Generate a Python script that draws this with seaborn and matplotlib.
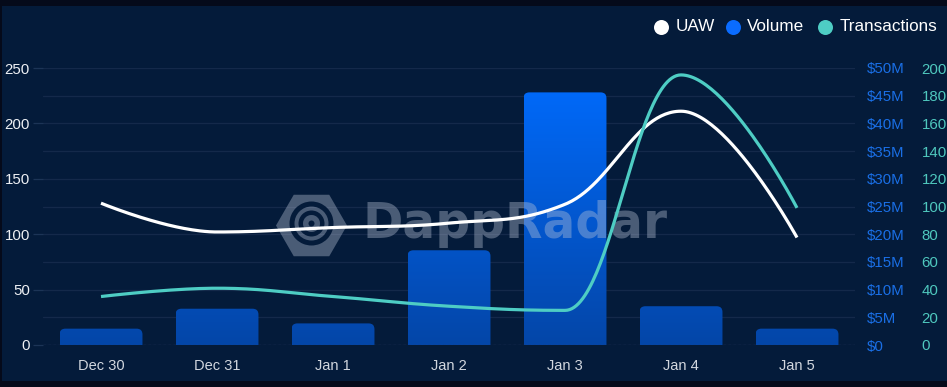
import numpy as np
import pandas as pd
import matplotlib
matplotlib.use("Agg")
import matplotlib.pyplot as plt
import seaborn as sns
from matplotlib.patches import FancyBboxPatch, Rectangle, RegularPolygon, Circle, Wedge
from matplotlib.colors import LinearSegmentedColormap
from matplotlib.lines import Line2D
from matplotlib.transforms import IdentityTransform
from matplotlib.ticker import FuncFormatter

# ---------------- data ----------------
dates = ["Dec 30", "Dec 31", "Jan 1", "Jan 2", "Jan 3", "Jan 4", "Jan 5"]
uaw = [128, 102, 106, 110, 127, 211, 97]
volume_musd = [2.95, 6.55, 3.9, 17.1, 45.6, 7.0, 2.95]
transactions = [35, 41, 35, 28, 25, 195, 99]

uaw_ticks = [0, 50, 100, 150, 200, 250]
vol_ticks = list(range(0, 55, 5))
tx_ticks = list(range(0, 220, 20))

BG = "#041b3a"
BORDER = "#050a1a"
GRID = "#14294a"
WHITE = "#ffffff"
TEAL = "#4ecdc4"
BLUE = "#0a6cff"

sns.set_theme(style="dark")
plt.rcParams["font.family"] = ["Liberation Sans", "DejaVu Sans"]

W, H = 947, 387
fig = plt.figure(figsize=(W / 100, H / 100), dpi=100)
fig.patch.set_facecolor(BORDER)
fig.add_artist(Rectangle((2 / W, 6 / H), 945 / W, 375 / H, transform=fig.transFigure,
                         facecolor=BG, edgecolor="none", zorder=-10))

rect = [43 / W, 42 / H, 812 / W, 277 / H]
ax2 = fig.add_axes(rect)          # volume bars (bottom)
ax = ax2.twinx()                  # UAW
ax3 = ax2.twinx()                 # transactions

df = pd.DataFrame({"date": dates, "volume": volume_musd})
sns.barplot(data=df, x="date", y="volume", ax=ax2, width=0.715, color=BLUE,
            order=dates, errorbar=None)

ax2.set_facecolor(BG)
ax2.set_xlim(-0.5, 6.5)
ax2.set_ylim(0, 50)
ax.set_ylim(0, 250)
ax3.set_ylim(0, 200)

# gradient rounded bars
cmap = LinearSegmentedColormap.from_list("g", ["#0446a8", "#006cff"])
rx = 0.05
ry = 1.05
for p in list(ax2.patches):
    x0, w, h = p.get_x(), p.get_width(), p.get_height()
    p.set_visible(False)
    box = FancyBboxPatch((x0, -ry), w, h + ry,
                         boxstyle=f"round,pad=0,rounding_size={rx}",
                         mutation_aspect=ry / rx,
                         facecolor="none", edgecolor="none")
    ax2.add_patch(box)
    vals = np.linspace(0, h, 200)[:, None] / 50.0
    im = ax2.imshow(vals, extent=(x0, x0 + w, 0, h), origin="lower", aspect="auto",
                    cmap=cmap, vmin=0, vmax=1, interpolation="bilinear", zorder=2)
    im.set_clip_path(box)
ax2.set_xlim(-0.5, 6.5)
ax2.set_ylim(0, 50)

# grid lines (every 5M == every 25 UAW)
for v in vol_ticks:
    ax2.axhline(v, color=GRID, lw=0.9, zorder=0.5)
ax2.axhline(0, color="#2c4264", lw=0.9, ls=(0, (2, 2)), zorder=3)
ax2.grid(False)
ax.grid(False)
ax3.grid(False)


def hc_spline(ys, n=60):
    xs = list(range(len(ys)))
    sm, den = 1.5, 2.5
    lc = [None] * len(ys)
    rc = [None] * len(ys)
    for i in range(1, len(ys) - 1):
        px, py = xs[i], ys[i]
        lx, ly = xs[i - 1], ys[i - 1]
        nx, ny = xs[i + 1], ys[i + 1]
        lcx = (sm * px + lx) / den
        lcy = (sm * py + ly) / den
        rcx = (sm * px + nx) / den
        rcy = (sm * py + ny) / den
        corr = (rcy - lcy) * (rcx - px) / (rcx - lcx) + py - rcy
        lcy += corr
        rcy += corr
        if lcy > ly and lcy > py:
            lcy = max(ly, py); rcy = 2 * py - lcy
        elif lcy < ly and lcy < py:
            lcy = min(ly, py); rcy = 2 * py - lcy
        if rcy > ny and rcy > py:
            rcy = max(ny, py); lcy = 2 * py - rcy
        elif rcy < ny and rcy < py:
            rcy = min(ny, py); lcy = 2 * py - rcy
        lc[i] = (lcx, lcy)
        rc[i] = (rcx, rcy)
    outx, outy = [], []
    t = np.linspace(0, 1, n)
    for i in range(1, len(ys)):
        p0 = np.array([xs[i - 1], ys[i - 1]], float)
        p3 = np.array([xs[i], ys[i]], float)
        p1 = np.array(rc[i - 1]) if rc[i - 1] is not None else p0
        p2 = np.array(lc[i]) if lc[i] is not None else p3
        b = ((1 - t) ** 3)[:, None] * p0 + (3 * (1 - t) ** 2 * t)[:, None] * p1 + \
            (3 * (1 - t) * t ** 2)[:, None] * p2 + (t ** 3)[:, None] * p3
        outx.extend(b[:, 0]); outy.extend(b[:, 1])
    return np.array(outx), np.array(outy)


ux, uy = hc_spline(uaw)
tx, ty = hc_spline(transactions)
ax.plot(ux, uy, color=WHITE, lw=2.3, solid_capstyle="butt", clip_on=False)
ax3.plot(tx, ty, color=TEAL, lw=2.3, solid_capstyle="butt", clip_on=False)

# axes styling
for a in (ax, ax2, ax3):
    for s in a.spines.values():
        s.set_visible(False)
ax.patch.set_visible(False)
ax3.patch.set_visible(False)

ax.yaxis.tick_left()
ax.set_yticks(uaw_ticks)
ax.tick_params(axis="y", left=True, right=False, labelleft=True, labelright=False,
               length=7.2, width=0.9, color="#1c3456", pad=2.2, labelsize=10.8,
               labelcolor="#eef0f4")
ax.set_ylabel("")

ax2.yaxis.tick_right()
ax2.set_yticks(vol_ticks)
ax2.yaxis.set_major_formatter(FuncFormatter(lambda v, p: "$0" if v == 0 else f"${int(v)}M"))
ax2.tick_params(axis="y", left=False, right=True, labelleft=False, labelright=True,
                length=0, pad=8.6, labelsize=10.8, labelcolor="#1a6fe6")
ax2.set_ylabel("")
ax2.set_xlabel("")
ax2.set_xticks(range(len(dates)))
ax2.set_xticklabels(dates)
ax2.tick_params(axis="x", length=0, pad=10, labelsize=10.5, labelcolor="#d2d7df")

ax3.yaxis.tick_right()
ax3.set_yticks(tx_ticks)
ax3.tick_params(axis="y", left=False, right=True, labelleft=False, labelright=True,
                length=0, pad=48, labelsize=10.8, labelcolor="#4fc8be")
ax3.set_ylabel("")

ax2.set_zorder(0)
ax.set_zorder(2)
ax3.set_zorder(3)

# watermark
wm_col = (0.74, 0.78, 0.85, 0.38)
fig.text(362 / W, 1 - 238 / H, "DappRadar", fontsize=35, fontweight="bold",
         family=["DejaVu Sans"], color=wm_col, ha="left", va="baseline", zorder=1)
cx, cy = 311.5, H - 225.5
fig.add_artist(RegularPolygon((cx, cy), 6, radius=35.5, orientation=np.pi / 6,
                              transform=IdentityTransform(), facecolor=wm_col,
                              edgecolor="none", zorder=1))
for r, wdt in [(22, 5), (13, 4.5)]:
    fig.add_artist(Wedge((cx, cy + 2), r, -110, 250, width=wdt, transform=IdentityTransform(),
                         facecolor=BG, edgecolor="none", zorder=1.1))
fig.add_artist(Circle((cx, cy + 2), 3, transform=IdentityTransform(),
                      facecolor=BG, edgecolor="none", zorder=1.1))

# legend
ly = 1 - 26.5 / H
items = [("UAW", WHITE, 661, 676), ("Volume", BLUE, 733, 747), ("Transactions", TEAL, 825, 840)]
for label, col, mx, txx in items:
    fig.add_artist(Line2D([mx / W], [ly], marker="o", markersize=10.8, color=col,
                          markeredgewidth=0, linestyle="none", transform=fig.transFigure))
    fig.text(txx / W, ly, label, fontsize=12.3, color="#ffffff", ha="left", va="center")

fig.savefig("out.png", dpi=100, facecolor=fig.get_facecolor())
